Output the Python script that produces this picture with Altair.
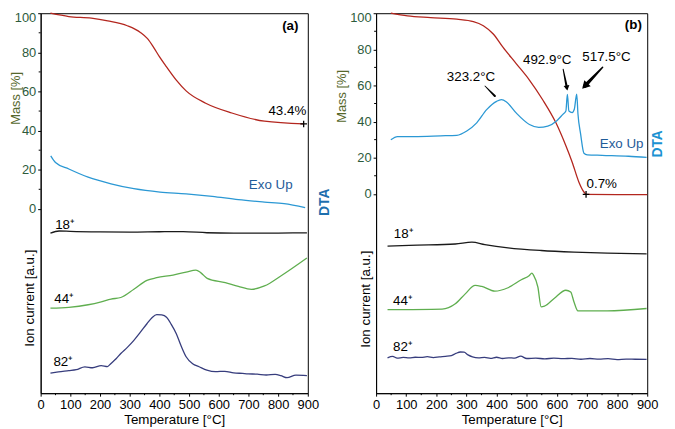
import altair as alt
import pandas as pd

FONT = "Liberation Sans"
FS = 13.5

# ---------------- panel (a) ----------------
a_mass_T = [33, 95, 171, 226, 292, 336, 360, 380, 400, 424, 457, 490, 556, 644, 754, 886]
a_mass_v = [100, 98.3, 97.5, 96.1, 93.6, 90.2, 87.0, 82.7, 77.8, 72.6, 65.8, 60.3, 54.0, 49.0, 44.8, 43.4]
a_dta_T = [34, 50, 95, 160, 237, 314, 402, 490, 578, 666, 754, 820, 891]
a_dta_v = [27.1, 23.7, 20.4, 16.2, 12.8, 10.3, 8.6, 7.7, 6.4, 4.7, 3.5, 2.7, 0.7]
a_i18_T = [33, 62, 100, 200, 300, 400, 480, 560, 650, 750, 850, 897]
a_i18_v = [-12.4, -11.3, -11.5, -11.8, -11.9, -11.7, -11.6, -12.2, -12.4, -12.4, -12.3, -12.3]
a_i44_T = [33, 95, 160, 204, 237, 270, 314, 358, 391, 446, 490, 523, 540, 561, 622, 666, 710, 754, 809, 897]
a_i44_v = [-50.7, -50.3, -49.0, -47.5, -46.1, -45.3, -41.1, -36.5, -35.2, -33.8, -32.3, -31.3, -32.7, -35.5,
           -37.7, -39.6, -41.1, -39.4, -34.3, -25.1]
a_i82_T = [33, 60, 95, 120, 149, 175, 204, 225, 237, 255, 270, 292, 314, 336, 358, 375, 391, 408, 424, 440,
           457, 473, 490, 512, 534, 560, 589, 620, 650, 680, 699, 730, 760, 790, 809, 830, 860, 897]
a_i82_v = [-84.0, -83.3, -82.7, -82.2, -80.7, -81.2, -80.1, -80.6, -79.0, -76.5, -73.9, -70.8, -67.2, -63.0,
           -58.7, -55.6, -54.0, -54.2, -55.4, -59.0, -63.8, -70.0, -75.6, -79.2, -80.7, -82.4, -83.2, -83.0,
           -83.8, -84.1, -84.3, -84.5, -84.9, -84.6, -85.2, -86.3, -85.0, -85.2]
a_end_T = [886]
a_end_v = [43.4]

# ---------------- panel (b) ----------------
b_mass_T = [49, 104, 181, 268, 323, 356, 389, 421, 465, 509, 553, 597, 630, 651, 673, 690, 697, 800, 900]
b_mass_v = [100, 98.5, 97.6, 96.7, 95.4, 93.1, 88.5, 81.2, 72.1, 63.0, 52.1, 39.3, 26.6, 17.5, 6.6, 1.0,
            -0.3, -0.4, -0.4]
b_dta_T = [49, 71, 126, 214, 268, 301, 334, 367, 400, 416, 433, 465, 509, 540, 570, 600, 620, 630, 635, 640,
           651, 658, 666, 670, 679, 690, 701, 750, 838, 898]
b_dta_v = [29.9, 31.7, 31.7, 32.1, 32.4, 34.8, 39.3, 46.6, 51.2, 52.1, 50.8, 44.8, 38.4, 36.8, 37.5, 40.5,
           44.0, 45.8, 55.0, 45.8, 45.0, 46.8, 55.2, 44.5, 33.0, 22.5, 21.6, 21.3, 20.8, 20.2]
b_i18_T = [38, 110, 263, 318, 361, 438, 548, 657, 767, 898]
b_i18_v = [-29.0, -28.5, -27.8, -26.8, -28.1, -29.9, -31.4, -32.3, -32.9, -33.3]
b_i44_T = [38, 219, 263, 296, 329, 351, 394, 438, 482, 509, 517, 523, 537, 548, 559, 591, 630, 646, 657,
           670, 767, 898]
b_i44_v = [-64.1, -63.8, -60.9, -55.4, -50.7, -51.3, -53.9, -52.0, -47.6, -45.2, -43.9, -45.2, -51.6, -62.6,
           -62.2, -58.0, -53.4, -54.4, -59.9, -64.8, -64.8, -63.5]
b_i82_T = [38, 55, 70, 90, 110, 130, 150, 170, 190, 210, 230, 250, 265, 280, 292, 305, 320, 340, 360, 380,
           400, 420, 440, 460, 480, 500, 530, 560, 590, 620, 650, 680, 710, 740, 770, 800, 830, 860, 898]
b_i82_v = [-90.8, -90.0, -91.0, -90.6, -90.9, -90.5, -90.6, -90.2, -90.7, -90.3, -90.0, -89.6, -88.4, -87.6,
           -87.7, -89.2, -90.3, -90.8, -90.6, -91.1, -90.5, -91.2, -90.8, -91.0, -89.9, -91.2, -91.0, -91.4,
           -91.0, -91.3, -91.1, -91.6, -91.2, -91.5, -91.3, -91.8, -91.5, -91.6, -91.7]
b_end_T = [697]
b_end_v = [-0.3]

# annotation pointers in panel (b)
b_arrow_id = ["p1", "p1", "p2", "p2", "p3", "p3"]
b_arrow_T = [361.4, 394.2, 620.9, 633.5, 752.0, 693.0]
b_arrow_v = [59.7, 54.2, 69.0, 58.6, 70.1, 59.7]
b_arrow_w = [0.8, 2.2, 1.0, 2.4, 1.5, 4.0]
b_head_T = [633.5, 693.0]
b_head_v = [58.6, 59.7]
b_head_angle = [350, 44]
b_head_size = [35, 80]

# text labels
a_text = ["(a)", "43.4%", "Exo Up", "18⁺", "44⁺", "82⁺"]
a_text_T = [841, 831, 775, 49, 46, 43]
a_text_v = [93.4, 50.0, 12.1, -8.1, -46.0, -78.3]
a_text_bold = [True, False, False, False, False, False]
a_text_align = ["center", "center", "center", "left", "left", "left"]
a_text_color = ["black", "black", "#1f5c99", "black", "black", "black"]

b_text = ["(b)", "0.7%", "Exo Up", "323.2°C", "492.9°C", "517.5°C", "18⁺", "44⁺", "82⁺"]
b_text_T = [854, 749, 815, 315, 568, 765, 59, 56, 56]
b_text_v = [93.2, 5.5, 27.4, 64.7, 74.0, 75.6, -22.5, -59.2, -84.9]
b_text_bold = [True, False, False, False, False, False, False, False, False]
b_text_align = ["center", "center", "center", "center", "center", "center", "left", "left", "left"]
b_text_color = ["black", "black", "#1f5c99", "black", "black", "black", "black", "black", "black"]

series_names = ["mass", "dta", "i18", "i44", "i82"]
series_colors = ["#b3261e", "#2b98d4", "#1a1a1a", "#5fae4f", "#373d7d"]

x_ticks = list(range(0, 901, 100))
x_minor = list(range(50, 900, 100))
y_ticks = [0, 20, 40, 60, 80, 100]
y_minor = [10, 30, 50, 70, 90]

GREEN = "#2d5b3c"
OLIVE = "#56682c"

xscale = alt.Scale(domain=[0, 900], nice=False, zero=False)
XAXIS = alt.Axis(values=x_ticks, title="Temperature [°C]", labelFlush=False, tickSize=3, labelPadding=2,
                 titlePadding=2, grid=False)
YAXIS = alt.Axis(values=y_ticks, title=None, labelColor=GREEN, labelFlush=True, labelFlushOffset=2,
                 tickSize=3, labelPadding=2, grid=False)


def build_panel(width, ydomain, curves, end_T, end_v, texts, mass_title_xy, ion_title_xy, dta_xy,
                dta_color, extra=None):
    yscale = alt.Scale(domain=ydomain, nice=False, zero=False)

    def X():
        return alt.X("T:Q", scale=xscale, axis=XAXIS)

    def Y():
        return alt.Y("v:Q", scale=yscale, axis=YAXIS)

    rows = []
    for name, (Ts, vs) in zip(series_names, curves):
        for t, v in zip(Ts, vs):
            rows.append({"T": t, "v": v, "s": name})
    df = pd.DataFrame(rows)

    lines = alt.Chart(df).mark_line(interpolate="monotone", strokeWidth=1.3).encode(
        x=X(), y=Y(),
        color=alt.Color("s:N", scale=alt.Scale(domain=series_names, range=series_colors), legend=None),
        detail="s:N",
    )

    xmin = alt.Chart(pd.DataFrame({"T": x_minor})).mark_rule(color="black", strokeWidth=1).encode(
        x=X(), y=alt.value(384), y2=alt.value(386))
    ymin = alt.Chart(pd.DataFrame({"v": y_minor})).mark_rule(color="black", strokeWidth=1).encode(
        y=Y(), x=alt.value(0), x2=alt.value(-2))

    end = alt.Chart(pd.DataFrame({"T": end_T, "v": end_v})).mark_point(
        shape="M-1,0L1,0M0,-1L0,1", size=45, filled=False, color="black", strokeWidth=1.3, opacity=1
    ).encode(x=X(), y=Y())

    tdf = pd.DataFrame(texts)
    text_layers = []
    for bold in (True, False):
        for align in ("center", "left"):
            sub = tdf[(tdf["bold"] == bold) & (tdf["align"] == align)]
            if len(sub) == 0:
                continue
            text_layers.append(
                alt.Chart(sub).mark_text(font=FONT, fontSize=FS, align=align, baseline="middle",
                                         fontWeight="bold" if bold else "normal").encode(
                    x=X(), y=Y(), text="text:N", color=alt.Color("color:N", scale=None))
            )

    def title_text(txt, xy, color, bold=False, size=FS):
        return alt.Chart(pd.DataFrame({"t": [txt]})).mark_text(
            font=FONT, fontSize=size, angle=270, align="center", baseline="middle", color=color,
            fontWeight="bold" if bold else "normal",
        ).encode(text="t:N", x=alt.value(xy[0]), y=alt.value(xy[1]))

    titles = [
        title_text("Mass [%]", mass_title_xy, OLIVE, size=13),
        title_text("Ion current [a.u.]", ion_title_xy, "black"),
        title_text("DTA", dta_xy, dta_color, bold=True, size=FS + 0.5),
    ]

    layers = [lines, xmin, ymin, end] + text_layers + titles
    if extra is not None:
        layers += extra(X, Y)
    return alt.layer(*layers).properties(width=width, height=384)


def texts_of(txt, T, v, bold, align, color):
    return {"text": txt, "T": T, "v": v, "bold": bold, "align": align, "color": color}


def b_extra(X, Y):
    adf = pd.DataFrame({"id": b_arrow_id, "T": b_arrow_T, "v": b_arrow_v, "w": b_arrow_w})
    trail = alt.Chart(adf).mark_trail(color="black").encode(
        x=X(), y=Y(), size=alt.Size("w:Q", scale=None, legend=None), detail="id:N")
    heads = []
    for T, v, ang, sz in zip(b_head_T, b_head_v, b_head_angle, b_head_size):
        heads.append(
            alt.Chart(pd.DataFrame({"T": [T], "v": [v]})).mark_point(
                shape="triangle-down", filled=True, color="black", size=sz, angle=ang, opacity=1
            ).encode(x=X(), y=Y())
        )
    return [trail] + heads


pa = build_panel(
    270, [-94.2, 100],
    [(a_mass_T, a_mass_v), (a_dta_T, a_dta_v), (a_i18_T, a_i18_v), (a_i44_T, a_i44_v), (a_i82_T, a_i82_v)],
    a_end_T, a_end_v,
    texts_of(a_text, a_text_T, a_text_v, a_text_bold, a_text_align, a_text_color),
    (-24.5, 86), (-11, 288), (287, 191), "#1e6fae",
)
pb = build_panel(
    274, [-110.4, 100],
    [(b_mass_T, b_mass_v), (b_dta_T, b_dta_v), (b_i18_T, b_i18_v), (b_i44_T, b_i44_v), (b_i82_T, b_i82_v)],
    b_end_T, b_end_v,
    texts_of(b_text, b_text_T, b_text_v, b_text_bold, b_text_align, b_text_color),
    (-34, 84), (-10, 289), (285, 132), "#1b92d2",
    extra=b_extra,
)

chart = alt.hconcat(pa, pb, spacing=69, bounds="flush").properties(
    autosize=alt.AutoSizeParams(type="none"),
    padding={"left": 33, "top": 1, "right": 633, "bottom": 420},
).configure_view(stroke="black", strokeWidth=1).configure_axis(
    domainColor="black", tickColor="black", domainWidth=1, tickWidth=1,
    labelFont=FONT, labelFontSize=13, labelColor="black",
    titleFont=FONT, titleFontSize=FS, titleFontWeight="normal", titleColor="black",
).configure_axisY(labelColor=GREEN)

chart.save("out.html", embed_options={"renderer": "svg", "actions": False})
